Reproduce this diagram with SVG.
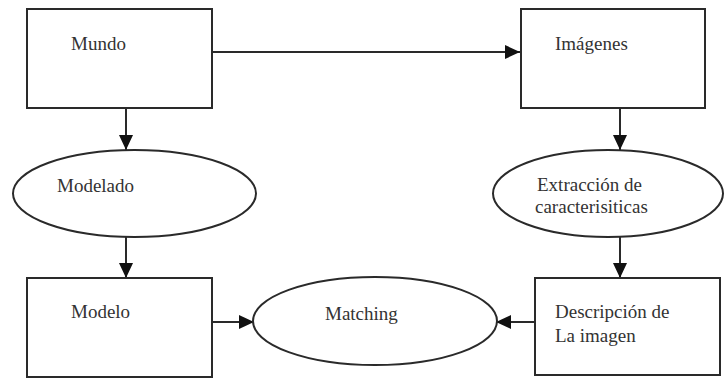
<svg xmlns="http://www.w3.org/2000/svg" width="724" height="378" viewBox="0 0 724 378">
<style>
.n{fill:#fff;stroke:#2a2a2a;stroke-width:2}
.t{font-family:"Liberation Serif","Times New Roman",serif;font-size:19px;fill:#333}
.c{stroke:#2a2a2a;stroke-width:2;fill:none}
</style>
<defs>
<marker id="a" markerUnits="userSpaceOnUse" markerWidth="16" markerHeight="14" refX="15" refY="7" orient="auto">
<path d="M0,0 L15,7 L0,14 Z" fill="#111"/>
</marker>
</defs>
<rect width="724" height="378" fill="#fff"/>
<g id="connectors">
<line class="c" x1="212" y1="52" x2="520" y2="52" marker-end="url(#a)"/>
<line class="c" x1="126" y1="108" x2="126" y2="150" marker-end="url(#a)"/>
<line class="c" x1="126" y1="237" x2="126" y2="278" marker-end="url(#a)"/>
<line class="c" x1="620" y1="108" x2="620" y2="150" marker-end="url(#a)"/>
<line class="c" x1="620" y1="237" x2="620" y2="278" marker-end="url(#a)"/>
<line class="c" x1="212" y1="322" x2="254" y2="322" marker-end="url(#a)"/>
<line class="c" x1="535" y1="322" x2="496" y2="322" marker-end="url(#a)"/>
</g>
<g id="mundo">
<rect class="n" x="27" y="9" width="185" height="99"/>
<text class="t" x="71" y="50">Mundo</text>
</g>
<g id="imagenes">
<rect class="n" x="521" y="9" width="184" height="99"/>
<text class="t" x="555" y="50">Imágenes</text>
</g>
<g id="modelado">
<ellipse class="n" cx="134.5" cy="193.5" rx="121.5" ry="43.5"/>
<text class="t" x="57" y="192">Modelado</text>
</g>
<g id="extraccion">
<ellipse class="n" cx="608" cy="193.5" rx="115" ry="43.5"/>
<text class="t" x="537" y="191">Extracción de</text>
<text class="t" x="535" y="213">caracterisiticas</text>
</g>
<g id="modelo">
<rect class="n" x="27" y="278" width="185" height="99"/>
<text class="t" x="71" y="318">Modelo</text>
</g>
<g id="matching">
<ellipse class="n" cx="375" cy="321" rx="122" ry="44"/>
<text class="t" x="325" y="320">Matching</text>
</g>
<g id="descripcion">
<rect class="n" x="535" y="278" width="185" height="97"/>
<text class="t" x="555" y="318">Descripción de</text>
<text class="t" x="555" y="342">La imagen</text>
</g>
</svg>
